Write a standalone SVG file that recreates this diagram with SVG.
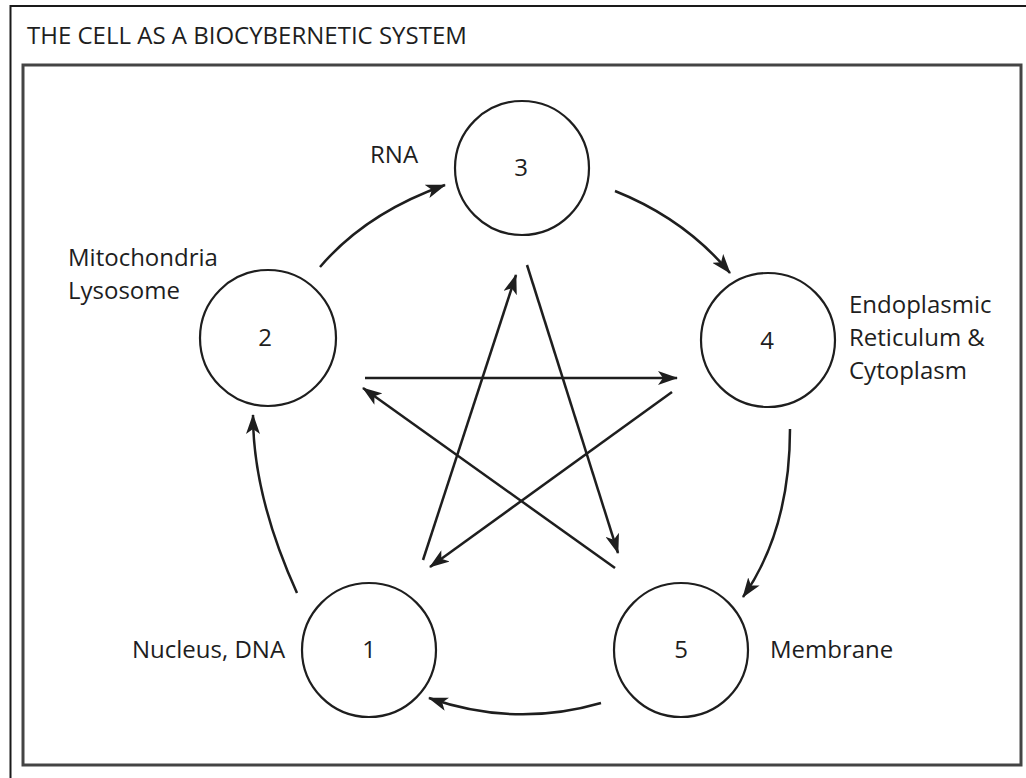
<svg xmlns="http://www.w3.org/2000/svg" width="1026" height="778" viewBox="0 0 1026 778">
  <style>
    text { font-family: "Open Sans", "Noto Sans", "Liberation Sans", sans-serif; font-size: 24px; fill: #1e1e1e; }
    .num { text-anchor: middle; }
    .node circle { fill: none; stroke: #1e1e1e; stroke-width: 2.2; }
    .conn path { fill: none; stroke: #1e1e1e; stroke-width: 2.5; }
  </style>
  <defs>
    <marker id="ah" markerUnits="userSpaceOnUse" markerWidth="20" markerHeight="14" refX="19" refY="7" orient="auto">
      <path d="M0,0 L20,7 L0,14 L5,7 z" fill="#1e1e1e"/>
    </marker>
  </defs>

  <rect width="1026" height="778" fill="#ffffff"/>

  <!-- page frame and title -->
  <path d="M10.5,778 V6 H1026" fill="none" stroke="#1a1a1a" stroke-width="2"/>
  <text x="27" y="44">THE CELL AS A BIOCYBERNETIC SYSTEM</text>
  <rect x="23" y="65" width="998" height="700" fill="none" stroke="#444" stroke-width="3"/>

  <!-- connectors -->
  <g id="connectors" class="conn">
    <!-- outer cycle -->
    <path d="M297,593 Q253,496 253,415" marker-end="url(#ah)"/>
    <path d="M320,267 Q366,213 445,185" marker-end="url(#ah)"/>
    <path d="M615,191 Q685,219 730,273" marker-end="url(#ah)"/>
    <path d="M790,429 Q790,530 743,597" marker-end="url(#ah)"/>
    <path d="M601,703 Q515,728 429,698" marker-end="url(#ah)"/>
    <!-- inner star -->
    <path d="M365,378 L677,378" marker-end="url(#ah)"/>
    <path d="M615,568 L363,388" marker-end="url(#ah)"/>
    <path d="M672,392 L430,567" marker-end="url(#ah)"/>
    <path d="M423,560 L516,275" marker-end="url(#ah)"/>
    <path d="M527,265 L618,553" marker-end="url(#ah)"/>
  </g>

  <!-- nodes -->
  <g id="node-1" class="node">
    <circle cx="369" cy="650" r="67"/>
    <text class="num" x="369" y="658">1</text>
    <text x="132" y="658">Nucleus, DNA</text>
  </g>
  <g id="node-2" class="node">
    <circle cx="268" cy="338" r="68"/>
    <text class="num" x="265" y="346">2</text>
    <text x="68" y="266">Mitochondria</text>
    <text x="68" y="299">Lysosome</text>
  </g>
  <g id="node-3" class="node">
    <circle cx="522" cy="168" r="67"/>
    <text class="num" x="521" y="176">3</text>
    <text x="370" y="163">RNA</text>
  </g>
  <g id="node-4" class="node">
    <circle cx="768" cy="340" r="67"/>
    <text class="num" x="767" y="349">4</text>
    <text x="849" y="313">Endoplasmic</text>
    <text x="849" y="346">Reticulum &amp;</text>
    <text x="849" y="379">Cytoplasm</text>
  </g>
  <g id="node-5" class="node">
    <circle cx="681" cy="650" r="67"/>
    <text class="num" x="681" y="658">5</text>
    <text x="770" y="658">Membrane</text>
  </g>
</svg>
